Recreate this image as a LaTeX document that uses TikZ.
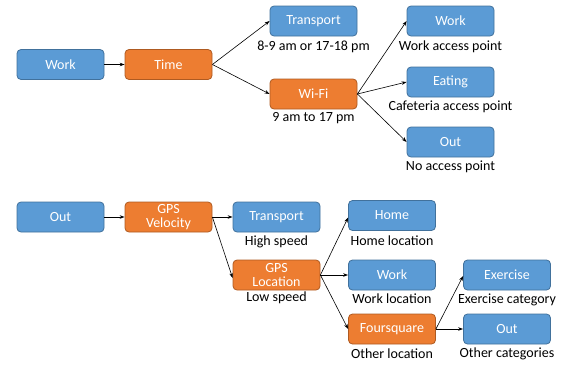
\documentclass[tikz,border=0pt]{standalone}
\usepackage{fontspec}
\setmainfont{Carlito}
\usetikzlibrary{arrows.meta}
\definecolor{bfill}{HTML}{5B9BD5}
\definecolor{bdraw}{HTML}{41719C}
\definecolor{ofill}{HTML}{ED7D31}
\definecolor{odraw}{HTML}{AE5A21}
\tikzset{
  box/.style={draw=bdraw, fill=bfill, line width=0.8pt, rounded corners=4pt, minimum width=87pt, minimum height=30pt, inner sep=1pt, text=white, font=\fontsize{14}{15}\selectfont, align=center},
  obox/.style={box, draw=odraw, fill=ofill},
  lbl/.style={font=\fontsize{14}{15}\selectfont, inner sep=0pt, text=black},
  arr/.style={-{Stealth[length=5pt,width=3.5pt]}, line width=0.6pt, black}
}
\begin{document}
\begin{tikzpicture}[x=1pt,y=-1pt]
\useasboundingbox (0,0) rectangle (564,364);
% top section
\node[box] (work0) at (60.5,64.5) {Work};
\node[obox] (time) at (168.5,64.5) {Time};
\node[box] (trans0) at (313.5,21) {Transport};
\node[obox] (wifi) at (313.5,94) {Wi-Fi};
\node[box] (work1) at (450.5,21) {Work};
\node[box] (eat) at (450.5,82) {Eating};
\node[box] (out1) at (450.5,142) {Out};
\node[lbl] (ltrans0) at (313.5,46.5) {8-9 am or 17-18 pm};
\node[lbl] (lwifi) at (313.5,118) {9 am to 17 pm};
\node[lbl] (lwork1) at (450.5,46.5) {Work access point};
\node[lbl] (leat) at (450.5,107) {Cafeteria access point};
\node[lbl] (lout1) at (450.5,167) {No access point};
\draw[arr] (work0) -- (time);
\draw[arr] (time.east) -- (trans0.west);
\draw[arr] (time.east) -- (wifi.west);
\draw[arr] (wifi.east) -- (work1.west);
\draw[arr] (wifi.east) -- (eat.west);
\draw[arr] (wifi.east) -- (out1.west);
% bottom section
\node[box] (out0) at (60.5,217) {Out};
\node[obox] (gpsv) at (168.5,217) {GPS\\[-1pt]Velocity};
\node[box] (trans1) at (276.5,217) {Transport};
\node[obox] (gpsl) at (276.5,275) {GPS\\[-1pt]Location};
\node[box] (home) at (392,215.5) {Home};
\node[box] (work2) at (392,275) {Work};
\node[obox] (four) at (392,329) {Foursquare};
\node[box] (exer) at (507,275) {Exercise};
\node[box] (out2) at (507,329) {Out};
\node[lbl] (ltrans1) at (276.5,242) {High speed};
\node[lbl] (lgpsl) at (276.5,298) {Low speed};
\node[lbl] (lhome) at (392,241) {Home location};
\node[lbl] (lwork2) at (392,299) {Work location};
\node[lbl] (lfour) at (392,353.5) {Other location};
\node[lbl] (lexer) at (507,300) {Exercise category};
\node[lbl] (lout2) at (507,353.5) {Other categories};
\draw[arr] (out0) -- (gpsv);
\draw[arr] (gpsv.east) -- (trans1.west);
\draw[arr] (gpsv.east) -- ([yshift=-3pt]gpsl.west);
\draw[arr] (gpsl.east) -- ([yshift=-2pt]home.west);
\draw[arr] (gpsl.east) -- (work2.west);
\draw[arr] (gpsl.east) -- (four.west);
\draw[arr] (four.east) -- ([yshift=-1pt]exer.west);
\draw[arr] (four.east) -- (out2.west);
\end{tikzpicture}
\end{document}
